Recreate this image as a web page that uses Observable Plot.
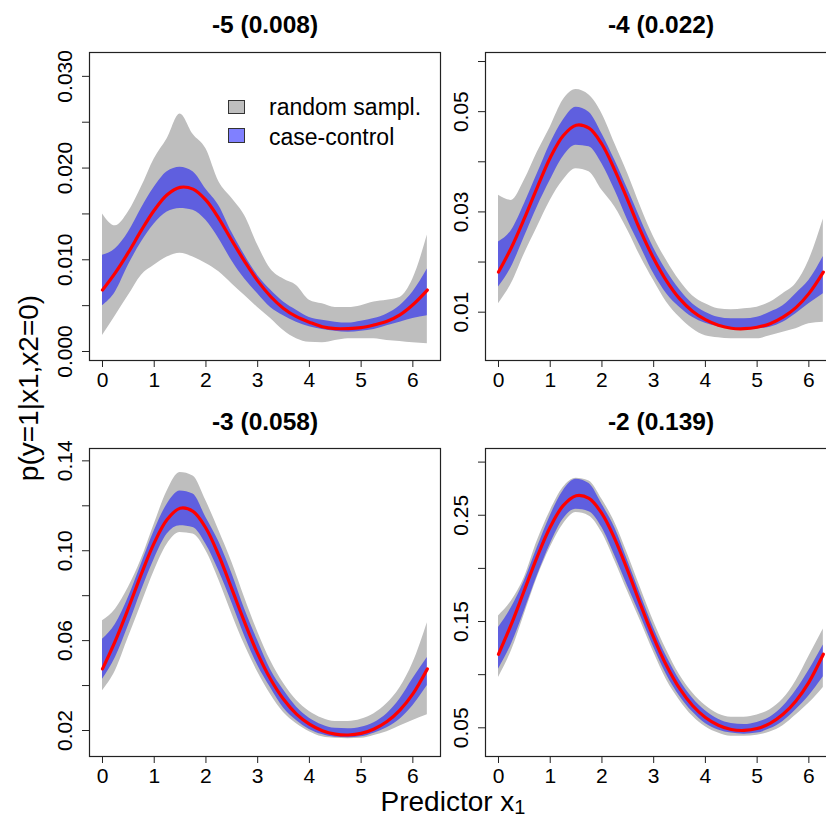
<!DOCTYPE html>
<html>
<head>
<meta charset="utf-8">
<script src="https://cdn.jsdelivr.net/npm/d3@7"></script>
<script src="https://cdn.jsdelivr.net/npm/@observablehq/plot@0.6"></script>
<style>
  html, body { margin: 0; padding: 0; background: #fff; overflow: hidden; }
  #root { position: relative; width: 826px; height: 818px; overflow: hidden; background: #fff;
          font-family: "Liberation Sans", Arial, sans-serif; color: #000; }
  .panel { position: absolute; }
  .panel svg { max-width: none !important; }
  .lab { position: absolute; white-space: nowrap; }
  .lbox { position: absolute; box-sizing: border-box; border: 1.3px solid #333; }
  .ltxt { position: absolute; font-size: 23px; line-height: 28px; white-space: nowrap; }
  .sub { display: inline-block; font-size: 20px; line-height: 14px; height: 14px; position: relative; top: 3px; }
</style>
</head>
<body>
<div id="root"></div>
<script>
// ---- data ----
const xs = [0,0.25,0.5,0.75,1,1.25,1.5,1.75,2,2.25,2.5,2.75,3,3.25,3.5,3.75,4,4.25,4.5,4.75,5,5.25,5.5,5.75,6,6.28];
const titles = ["-5 (0.008)", "-4 (0.022)", "-3 (0.058)", "-2 (0.139)"];
const xTicks = [0,1,2,3,4,5,6];

// panel 1 (intercept -5)
const p1True   = [0.0067,0.0086,0.0108,0.0132,0.0154,0.0171,0.0179,0.0177,0.0165,0.0145,0.0121,0.0098,0.0077,0.0060,0.0047,0.0038,0.0032,0.0027,0.0025,0.0025,0.0026,0.0029,0.0033,0.0040,0.0051,0.0067];
const p1GrayLo = [0.00175,0.0039,0.0061,0.0083,0.0094,0.0103,0.0107,0.0103,0.0096,0.0087,0.0074,0.0061,0.0048,0.0036,0.0023,0.0014,0.0010,0.00095,0.0012,0.0014,0.0014,0.0014,0.0012,0.0011,0.00095,0.00085];
const p1GrayHi = [0.0150,0.0137,0.0152,0.0179,0.0210,0.0232,0.0259,0.0237,0.0221,0.0185,0.0167,0.0148,0.0116,0.0090,0.0079,0.0072,0.0056,0.0052,0.0048,0.0048,0.0050,0.0054,0.0056,0.0059,0.0079,0.0127];
const p1BlueLo = [0.0050,0.0065,0.0094,0.0119,0.0139,0.0152,0.0156,0.0154,0.0143,0.0123,0.0099,0.0079,0.0063,0.0048,0.0039,0.0032,0.0027,0.0024,0.0022,0.0021,0.0022,0.0024,0.0028,0.0032,0.0036,0.0039];
const p1BlueHi = [0.0105,0.0112,0.0130,0.0156,0.0179,0.0196,0.0201,0.0196,0.0177,0.0159,0.0130,0.0105,0.0083,0.0067,0.0054,0.0045,0.0037,0.0034,0.0032,0.0031,0.0033,0.0036,0.0041,0.0050,0.0065,0.0090];

// panel 2 (intercept -4)
const p2True   = [0.0180,0.0229,0.0287,0.0349,0.0408,0.0452,0.0473,0.0467,0.0435,0.0383,0.0323,0.0261,0.0207,0.0162,0.0127,0.0102,0.0085,0.0074,0.0068,0.0067,0.0070,0.0077,0.0090,0.0109,0.0137,0.0180];
const p2GrayLo = [0.0117,0.0157,0.0216,0.0270,0.0323,0.0363,0.0386,0.0380,0.0343,0.0310,0.0263,0.0210,0.0163,0.0120,0.0090,0.0067,0.0053,0.0049,0.0047,0.0047,0.0047,0.0053,0.0060,0.0067,0.0077,0.0080];
const p2GrayHi = [0.0333,0.0323,0.0363,0.0419,0.0469,0.0523,0.0544,0.0533,0.0496,0.0436,0.0376,0.0310,0.0250,0.0203,0.0163,0.0133,0.0117,0.0107,0.0105,0.0107,0.0110,0.0120,0.0137,0.0157,0.0203,0.0286];
const p2BlueLo = [0.0150,0.0190,0.0250,0.0310,0.0363,0.0410,0.0433,0.0430,0.0396,0.0343,0.0283,0.0230,0.0177,0.0137,0.0110,0.0090,0.0078,0.0071,0.0067,0.0067,0.0067,0.0070,0.0080,0.0097,0.0117,0.0137];
const p2BlueHi = [0.0240,0.0263,0.0316,0.0376,0.0436,0.0483,0.0509,0.0499,0.0456,0.0403,0.0345,0.0285,0.0228,0.0182,0.0145,0.0117,0.0100,0.0090,0.0087,0.0087,0.0090,0.0100,0.0113,0.0137,0.0163,0.0211];

// panel 3 (intercept -3)
const p3True   = [0.0474,0.0600,0.0744,0.0896,0.1035,0.1139,0.1189,0.1175,0.1100,0.0978,0.0830,0.0680,0.0542,0.0428,0.0339,0.0273,0.0228,0.0199,0.0184,0.0180,0.0187,0.0207,0.0240,0.0291,0.0363,0.0474];
const p3GrayLo = [0.0377,0.0466,0.0614,0.0762,0.0910,0.1029,0.1081,0.1074,0.1000,0.0870,0.0720,0.0580,0.0460,0.0360,0.0280,0.0230,0.0195,0.0172,0.0165,0.0163,0.0165,0.0178,0.0195,0.0220,0.0245,0.0270];
const p3GrayHi = [0.0688,0.0740,0.0836,0.0962,0.1118,0.1266,0.1348,0.1333,0.1222,0.1090,0.0950,0.0790,0.0640,0.0510,0.0410,0.0335,0.0285,0.0255,0.0240,0.0240,0.0250,0.0275,0.0320,0.0390,0.0500,0.0680];
const p3BlueLo = [0.0428,0.0525,0.0666,0.0821,0.0962,0.1074,0.1111,0.1103,0.1029,0.0910,0.0770,0.0620,0.0490,0.0390,0.0300,0.0245,0.0205,0.0182,0.0170,0.0168,0.0172,0.0188,0.0212,0.0250,0.0310,0.0400];
const p3BlueHi = [0.0606,0.0673,0.0792,0.0940,0.1088,0.1207,0.1266,0.1252,0.1148,0.1040,0.0900,0.0740,0.0600,0.0470,0.0380,0.0305,0.0255,0.0225,0.0210,0.0208,0.0215,0.0235,0.0275,0.0340,0.0430,0.0525];

// panel 4 (intercept -2)
const p4True   = [0.1192,0.1477,0.1794,0.2111,0.2389,0.2590,0.2684,0.2658,0.2515,0.2276,0.1976,0.1654,0.1348,0.1083,0.0870,0.0710,0.0597,0.0524,0.0484,0.0475,0.0493,0.0542,0.0627,0.0753,0.0928,0.1192];
const p4GrayLo = [0.0973,0.1224,0.1569,0.1914,0.2196,0.2415,0.2525,0.2494,0.2337,0.2070,0.1780,0.1500,0.1210,0.0950,0.0760,0.0610,0.0510,0.0450,0.0420,0.0420,0.0430,0.0460,0.0520,0.0620,0.0730,0.0880];
const p4GrayHi = [0.1553,0.1694,0.1914,0.2259,0.2541,0.2760,0.2848,0.2823,0.2650,0.2430,0.2130,0.1810,0.1500,0.1230,0.1000,0.0830,0.0710,0.0630,0.0600,0.0600,0.0620,0.0670,0.0770,0.0940,0.1170,0.1430];
const p4BlueLo = [0.1052,0.1287,0.1600,0.1930,0.2227,0.2462,0.2556,0.2534,0.2384,0.2118,0.1830,0.1550,0.1260,0.1000,0.0800,0.0650,0.0540,0.0480,0.0450,0.0440,0.0450,0.0490,0.0560,0.0670,0.0800,0.0980];
const p4BlueHi = [0.1444,0.1632,0.1882,0.2196,0.2494,0.2729,0.2838,0.2798,0.2603,0.2380,0.2070,0.1750,0.1440,0.1170,0.0950,0.0780,0.0660,0.0580,0.0540,0.0530,0.0550,0.0600,0.0700,0.0850,0.1040,0.1280];

// y axes: domains, tick positions, labelled ticks
const yDomains = [[-0.00098, 0.0326], [0.00036, 0.0618], [0.00843, 0.1455], [0.023, 0.3128]];
const yTicks = [
  [0, 0.005, 0.01, 0.015, 0.02, 0.025, 0.03],
  [0.01, 0.02, 0.03, 0.04, 0.05, 0.06],
  [0.02, 0.04, 0.06, 0.08, 0.10, 0.12, 0.14],
  [0.05, 0.10, 0.15, 0.20, 0.25, 0.30]
];
const yLabelValues = [[0, 0.01, 0.02, 0.03], [0.01, 0.03, 0.05], [0.02, 0.06, 0.10, 0.14], [0.05, 0.15, 0.25]];
const yLabelTexts  = [["0.000", "0.010", "0.020", "0.030"], ["0.01", "0.03", "0.05"], ["0.02", "0.06", "0.10", "0.14"], ["0.05", "0.15", "0.25"]];

const seriesByPanel = [
  [p1True, p1GrayLo, p1GrayHi, p1BlueLo, p1BlueHi],
  [p2True, p2GrayLo, p2GrayHi, p2BlueLo, p2BlueHi],
  [p3True, p3GrayLo, p3GrayHi, p3BlueLo, p3BlueHi],
  [p4True, p4GrayLo, p4GrayHi, p4BlueLo, p4BlueHi]
];

const legendLabels = ["random sampl.", "case-control"];

// ---- layout ----
const FONT = '"Liberation Sans", Arial, sans-serif';
const layout = [
  {left: 0,   top: 0,   width: 445, height: 400, mL: 89, mR: 5, mT: 52, mB: 40, titleDy: -27.3},
  {left: 440, top: 0,   width: 400, height: 400, mL: 45, mR: 4, mT: 52, mB: 40, titleDy: -27.3},
  {left: 0,   top: 400, width: 445, height: 418, mL: 89, mR: 5, mT: 48, mB: 62, titleDy: -26.3},
  {left: 440, top: 400, width: 400, height: 418, mL: 45, mR: 4, mT: 48, mB: 62, titleDy: -26.3}
];

const root = document.getElementById("root");

layout.forEach((L, i) => {
  const [tr, glo, ghi, blo, bhi] = seriesByPanel[i];
  const rows = xs.map((x, j) => ({x, t: tr[j], glo: glo[j], ghi: ghi[j], blo: blo[j], bhi: bhi[j]}));
  const labs = yLabelValues[i].map((v, j) => ({v, s: yLabelTexts[i][j]}));
  const chart = Plot.plot({
    width: L.width, height: L.height,
    marginLeft: L.mL, marginRight: L.mR, marginTop: L.mT, marginBottom: L.mB,
    x: {domain: [-0.2513, 6.5345]},
    y: {domain: yDomains[i]},
    style: {fontFamily: FONT, background: "transparent", color: "#000", overflow: "visible", maxWidth: "none"},
    marks: [
      Plot.areaY(rows, {x: "x", y1: "glo", y2: "ghi", fill: "#BEBEBE", curve: "monotone-x"}),
      Plot.areaY(rows, {x: "x", y1: "blo", y2: "bhi", fill: "#0000FF", fillOpacity: 0.5, curve: "monotone-x"}),
      Plot.line(rows, {x: "x", y: "t", stroke: "#FF0000", strokeWidth: 3.2, curve: "catmull-rom"}),
      Plot.frame({stroke: "#222", strokeWidth: 1.2}),
      Plot.axisX({ticks: xTicks, tickSize: 7, tickPadding: 5, fontSize: 21, label: null, tickFormat: d => String(d), stroke: "#222"}),
      Plot.axisY({ticks: yTicks[i], tickSize: 7, tickFormat: () => "", label: null, stroke: "#222"}),
      Plot.text(labs, {y: "v", text: "s", frameAnchor: "left", dx: -24, rotate: -90, fontSize: 21, lineAnchor: "middle", textAnchor: "middle", fill: "#000"}),
      Plot.text([titles[i]], {text: d => d, frameAnchor: "top", dy: L.titleDy, fontSize: 24.5, fontWeight: "bold", lineAnchor: "middle", fill: "#000"})
    ]
  });
  const div = document.createElement("div");
  div.className = "panel";
  div.style.left = L.left + "px";
  div.style.top = L.top + "px";
  div.style.width = L.width + "px";
  div.style.height = L.height + "px";
  div.appendChild(chart);
  root.appendChild(div);
});

// legend (inside panel 1)
const lg = [
  {box: {left: 228, top: 100, w: 17, h: 14}, fill: "#BEBEBE", txtTop: 93},
  {box: {left: 228, top: 128, w: 17, h: 15}, fill: "#8080FF", txtTop: 123}
];
lg.forEach((e, k) => {
  const b = document.createElement("div");
  b.className = "lbox";
  Object.assign(b.style, {left: e.box.left + "px", top: e.box.top + "px", width: e.box.w + "px", height: e.box.h + "px", background: e.fill});
  root.appendChild(b);
  const t = document.createElement("div");
  t.className = "ltxt";
  t.textContent = legendLabels[k];
  Object.assign(t.style, {left: "269px", top: e.txtTop + "px"});
  root.appendChild(t);
});

// axis titles
const yl = document.createElement("div");
yl.className = "lab";
yl.textContent = "p(y=1|x1,x2=0)";
Object.assign(yl.style, {left: "28.5px", top: "387.5px", fontSize: "28px", lineHeight: "normal", transform: "translate(-50%,-50%) rotate(-90deg)"});
root.appendChild(yl);

const xl = document.createElement("div");
xl.className = "lab";
xl.innerHTML = 'Predictor x<span class="sub">1</span>';
Object.assign(xl.style, {left: "453px", top: "791px", fontSize: "28px", lineHeight: "22px", transform: "translateX(-50%)"});
root.appendChild(xl);
</script>
</body>
</html>
